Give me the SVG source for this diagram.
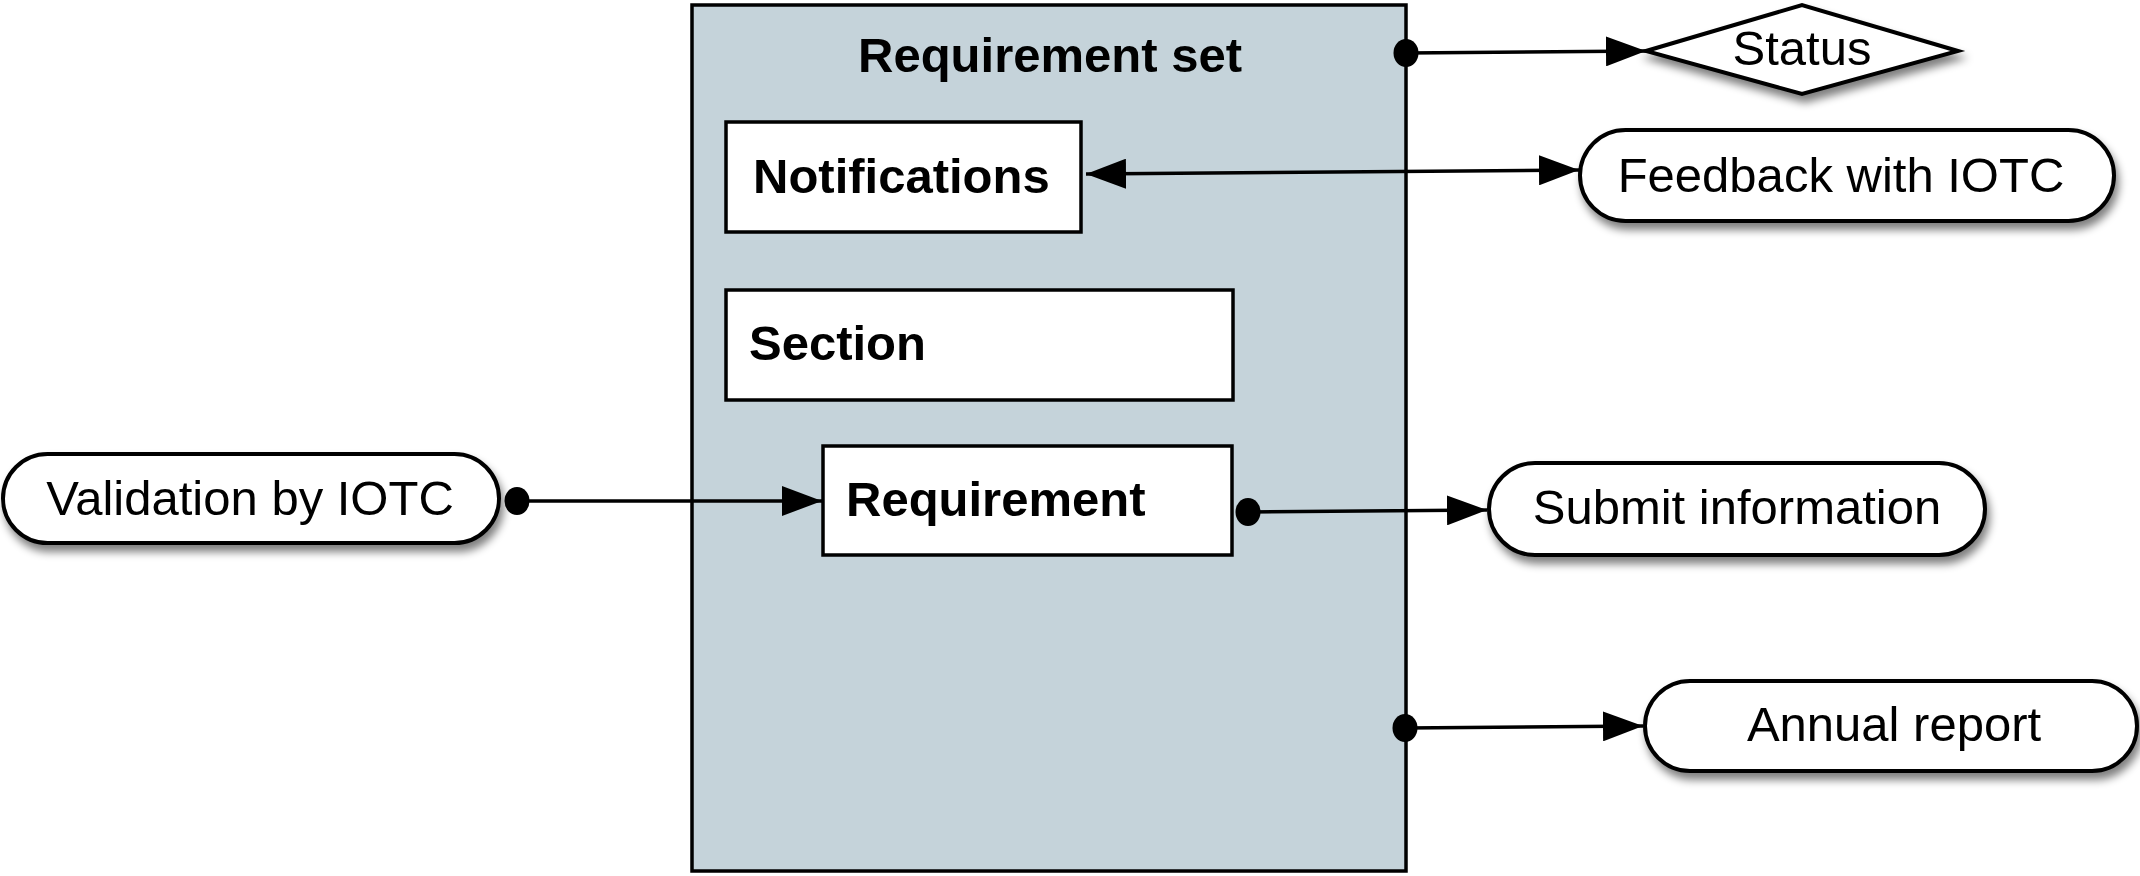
<svg xmlns="http://www.w3.org/2000/svg" width="2140" height="876" viewBox="0 0 2140 876">
<style>
.bold{font-family:"Liberation Sans",Arial,Helvetica,sans-serif;font-weight:bold;font-size:49px;fill:#000}
.reg{font-family:"Liberation Sans",Arial,Helvetica,sans-serif;font-size:49px;fill:#000}
.box{fill:#fff;stroke:#000;stroke-width:3.5}
.term{fill:#fff;stroke:#000;stroke-width:4;filter:url(#shadow)}
.conn{fill:none;stroke:#000;stroke-width:3.5}
</style>
<defs>
<filter id="shadow" x="-10%" y="-20%" width="125%" height="160%">
<feGaussianBlur in="SourceAlpha" stdDeviation="4"/>
<feOffset dx="3" dy="7" result="b"/>
<feComponentTransfer><feFuncA type="linear" slope="0.5"/></feComponentTransfer>
<feMerge><feMergeNode/><feMergeNode in="SourceGraphic"/></feMerge>
</filter>
<marker id="arrow" markerUnits="userSpaceOnUse" markerWidth="40" markerHeight="30" refX="40" refY="15" orient="auto-start-reverse" viewBox="0 0 40 30">
<path d="M0,0 L40,15 L0,30 z" fill="#000"/>
</marker>
<marker id="dot" markerUnits="userSpaceOnUse" markerWidth="28" markerHeight="30" refX="14" refY="15" orient="0" viewBox="0 0 28 30">
<ellipse cx="14" cy="15" rx="12.5" ry="14" fill="#000"/>
</marker>
</defs>
<rect width="2140" height="876" fill="#fff"/>

<g id="requirement-set">
<rect x="692" y="5" width="714" height="866" fill="#c5d3da" stroke="#000" stroke-width="3.5"/>
<text class="bold" x="1050" y="72" text-anchor="middle">Requirement set</text>
</g>
<g id="notifications">
<rect class="box" x="726" y="122" width="355" height="110"/>
<text class="bold" x="753" y="193">Notifications</text>
</g>
<g id="section">
<rect class="box" x="726" y="290" width="507" height="110"/>
<text class="bold" x="749" y="360">Section</text>
</g>
<g id="requirement">
<rect class="box" x="823" y="446" width="409" height="109"/>
<text class="bold" x="846" y="516">Requirement</text>
</g>
<g id="status">
<polygon class="term" points="1646,51 1802,5 1958,51 1802,94"/>
<text class="reg" x="1802" y="65" text-anchor="middle">Status</text>
</g>
<g id="feedback">
<rect class="term" x="1580" y="130" width="534" height="91" rx="45.5"/>
<text class="reg" x="1841" y="192" text-anchor="middle">Feedback with IOTC</text>
</g>
<g id="validation">
<rect class="term" x="3" y="454" width="496" height="89" rx="44.5"/>
<text class="reg" x="250" y="515" text-anchor="middle">Validation by IOTC</text>
</g>
<g id="submit">
<rect class="term" x="1489" y="463" width="496" height="92" rx="46"/>
<text class="reg" x="1737" y="524" text-anchor="middle">Submit information</text>
</g>
<g id="annual-report">
<rect class="term" x="1645" y="681" width="492" height="90" rx="45"/>
<text class="reg" x="1894" y="741" text-anchor="middle">Annual report</text>
</g>

<g id="connectors">
<line class="conn" x1="1406" y1="53" x2="1646" y2="51" marker-start="url(#dot)" marker-end="url(#arrow)"/>
<line class="conn" x1="1086" y1="174" x2="1579" y2="170" marker-start="url(#arrow)" marker-end="url(#arrow)"/>
<line class="conn" x1="517" y1="501" x2="822" y2="501" marker-start="url(#dot)" marker-end="url(#arrow)"/>
<line class="conn" x1="1248" y1="512" x2="1487" y2="510" marker-start="url(#dot)" marker-end="url(#arrow)"/>
<line class="conn" x1="1405" y1="728" x2="1643" y2="726" marker-start="url(#dot)" marker-end="url(#arrow)"/>
</g>
</svg>
